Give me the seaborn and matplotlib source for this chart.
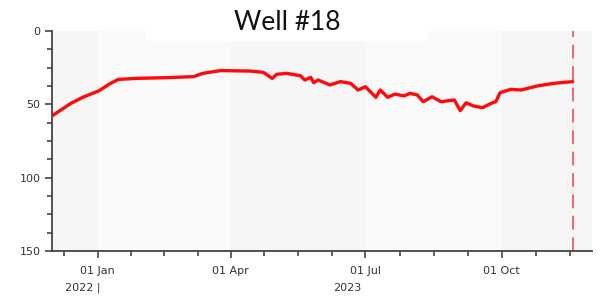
import pandas as pd
import numpy as np
import matplotlib
matplotlib.use("Agg")
import matplotlib.pyplot as plt
import matplotlib.dates as mdates
from matplotlib.patches import Rectangle
import seaborn as sns

# --- data (depth to water, ft) ---
dates = [
    "2022-12-01", "2022-12-14", "2022-12-22", "2023-01-02", "2023-01-09",
    "2023-01-15", "2023-01-27", "2023-02-17", "2023-03-07", "2023-03-13",
    "2023-03-25", "2023-04-14", "2023-04-23", "2023-04-29", "2023-05-02",
    "2023-05-09", "2023-05-18", "2023-05-21", "2023-05-25", "2023-05-27",
    "2023-05-30", "2023-06-07", "2023-06-14", "2023-06-21", "2023-06-26",
    "2023-07-01", "2023-07-08", "2023-07-11", "2023-07-16", "2023-07-21",
    "2023-07-27", "2023-07-31", "2023-08-05", "2023-08-09", "2023-08-15",
    "2023-08-21", "2023-08-30", "2023-09-03", "2023-09-07", "2023-09-12",
    "2023-09-18", "2023-09-24", "2023-09-27", "2023-09-30", "2023-10-07",
    "2023-10-14", "2023-10-25", "2023-11-05", "2023-11-18",
]
depth = [
    58.0, 49.3, 45.2, 40.7, 36.1,
    33.0, 32.3, 31.8, 31.1, 28.9,
    27.0, 27.3, 28.2, 32.3, 29.5,
    28.9, 30.5, 33.4, 31.6, 35.2,
    33.4, 36.8, 34.5, 35.7, 40.2,
    38.0, 45.2, 40.2, 45.2, 43.0,
    44.3, 42.5, 43.6, 48.2, 44.8,
    48.2, 47.0, 54.3, 48.9, 51.1,
    52.3, 49.3, 48.2, 42.0, 39.8,
    40.2, 37.5, 35.7, 34.5,
]
marker_date = "2023-11-18"
title = "Well #18"
y_ticks = [0, 50, 100, 150]
major_dates = ["2023-01-01", "2023-04-01", "2023-07-01", "2023-10-01"]
major_labels = ["01 Jan", "01 Apr", "01 Jul", "01 Oct"]
year_labels = [("2023-01-01", "2022 |"), ("2023-07-01", "2023")]

df = pd.DataFrame({"date": pd.to_datetime(dates), "depth": depth})

sns.set_style("ticks")
plt.rcParams["font.family"] = ["DejaVu Sans"]

fig = plt.figure(figsize=(6.07, 3.01), dpi=100)
ax = fig.add_axes([0.0852, 0.166, 0.890, 0.731])
ax.set_facecolor("#f8f8f8")

x0, x1 = pd.Timestamp("2022-12-01"), pd.Timestamp("2023-12-01")

# alternating quarter shading
bands = [("2022-10-01", "2023-01-01", "#f6f6f6"),
         ("2023-01-01", "2023-04-01", "#fafafa"),
         ("2023-04-01", "2023-07-01", "#f6f6f6"),
         ("2023-07-01", "2023-10-01", "#fafafa"),
         ("2023-10-01", "2024-01-01", "#f5f5f5")]
for a, b, c in bands:
    ax.axvspan(pd.Timestamp(a), pd.Timestamp(b), color=c, lw=0, zorder=0)

sns.lineplot(data=df, x="date", y="depth", ax=ax, color="#ff0a0a",
             linewidth=2.4, zorder=3)
ax.axvline(pd.Timestamp(marker_date), color="#e84050", lw=1.1,
           dashes=(9, 5), zorder=2)

ax.set_xlabel("")
ax.set_ylabel("")

# ticks
ax.set_yticks(y_ticks)
ax.set_yticks(np.arange(0, 150.1, 12.5), minor=True)
ax.set_xticks([pd.Timestamp(d) for d in major_dates])
ax.set_xticklabels(major_labels)
q = mdates.date2num(pd.to_datetime(["2022-10-01", "2023-01-01", "2023-04-01",
                                    "2023-07-01", "2023-10-01", "2024-01-01"]))
minor = np.concatenate([np.linspace(q[i], q[i + 1], 5)[1:4] for i in range(len(q) - 1)])
lo, hi = mdates.date2num(x0), mdates.date2num(x1)
minor = minor[(minor >= lo) & (minor <= hi)]
ax.set_xticks(minor, minor=True)

ax.set_xlim(x0, x1)
ax.set_ylim(150, 0)

for lab in ax.get_xticklabels() + ax.get_yticklabels():
    lab.set_fontsize(8)
    lab.set_color("#333333")
ax.tick_params(axis="both", which="major", length=5, width=1.2, color="#444444")
ax.tick_params(axis="both", which="minor", length=3.5, width=1.2, color="#444444")
ax.tick_params(axis="x", which="major", pad=6)
ax.tick_params(axis="y", which="major", pad=3)

for s in ["top", "right"]:
    ax.spines[s].set_visible(False)
for s in ["left", "bottom"]:
    ax.spines[s].set_color("#444444")
    ax.spines[s].set_linewidth(1.3)

for d, txt in year_labels:
    dx = 2 if txt.endswith("|") else -3
    ax.annotate(txt, xy=(pd.Timestamp(d), 0), xycoords=("data", "axes fraction"),
                xytext=(dx, -23), textcoords="offset points", ha="right", va="top",
                fontsize=8, color="#333333")

# white box behind title
fig.patches.append(Rectangle((146 / 607, 1 - 40 / 301), 281 / 607, 40 / 301,
                             transform=fig.transFigure, color="white", zorder=1))
fig.text(287 / 607, 1 - 29.5 / 301, title, ha="center", va="baseline",
         fontsize=19, family=["Lato", "DejaVu Sans"], color="#111111", zorder=2)

fig.savefig("out.png", dpi=100)
